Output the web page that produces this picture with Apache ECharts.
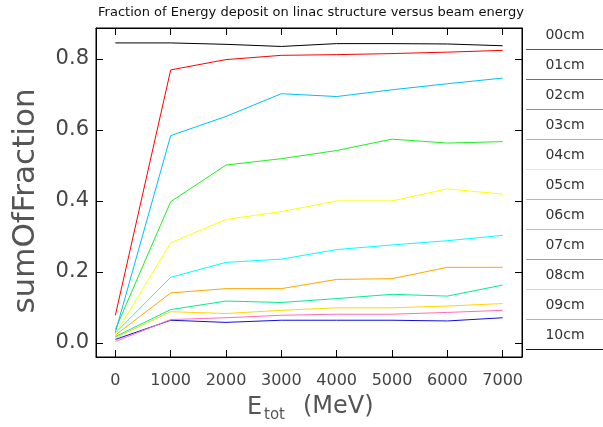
<!DOCTYPE html>
<html>
<head>
<meta charset="utf-8">
<script src="https://cdn.jsdelivr.net/npm/echarts@6/dist/echarts.min.js"></script>
<style>html,body{margin:0;padding:0;background:#fff;}#c{width:603px;height:427px;}</style>
</head>
<body>
<div id="c"></div>
<script>
const xs = [0, 1000, 2000, 3000, 4000, 5000, 6000, 7000];
const names = ['00cm','01cm','02cm','03cm','04cm','05cm','06cm','07cm','08cm','09cm','10cm'];
const s00 = [0.845, 0.845, 0.841, 0.835, 0.843, 0.843, 0.842, 0.837];
const s01 = [0.078, 0.769, 0.798, 0.810, 0.812, 0.815, 0.819, 0.824];
const s02 = [0.030, 0.584, 0.638, 0.702, 0.694, 0.713, 0.730, 0.746];
const s03 = [0.038, 0.398, 0.501, 0.519, 0.542, 0.574, 0.563, 0.567];
const s04 = [0.025, 0.282, 0.348, 0.370, 0.400, 0.400, 0.434, 0.419];
const s05 = [0.028, 0.185, 0.227, 0.236, 0.263, 0.276, 0.288, 0.303];
const s06 = [0.022, 0.141, 0.153, 0.153, 0.179, 0.181, 0.213, 0.213];
const s07 = [0.018, 0.094, 0.118, 0.114, 0.125, 0.137, 0.132, 0.163];
const s08 = [0.015, 0.088, 0.083, 0.092, 0.099, 0.099, 0.104, 0.111];
const s09 = [0.004, 0.066, 0.071, 0.078, 0.081, 0.081, 0.086, 0.092];
const s10 = [0.010, 0.064, 0.058, 0.064, 0.064, 0.064, 0.062, 0.071];
const values = [s00, s01, s02, s03, s04, s05, s06, s07, s08, s09, s10];
const colors = ['#000000','#ff0000','#00bfff','#22ee22','#ffff00','#00ffff','#ffa500','#00ee90','#ffd700','#ff6eb4','#1010e0'];
const legendColors = ['#555555','#ff3333','#11bbff','#55ee55','#ffff00','#33eeee','#ffb050','#11ee99','#ffd840','#ff88c0','#0000cc'];

const FONT = 'DejaVu Sans';
const X_MIN = -350, X_MAX = 7350, Y_MIN = -0.0395, Y_MAX = 0.887;
const chart = echarts.init(document.getElementById('c'), null, {renderer: 'canvas'});

const series = values.map((v, i) => ({
  name: names[i],
  type: 'line',
  data: xs.map((x, j) => [x, v[j]]),
  showSymbol: false,
  symbol: 'none',
  lineStyle: {color: colors[i], width: 1},
  itemStyle: {color: colors[i]},
  animation: false,
  z: 20 - i
}));

const graphics = [];
graphics.push({
  type: 'text', x: 311, y: 13,
  style: {text: 'Fraction of Energy deposit on linac structure versus beam energy', font: '13px ' + FONT, fill: '#111', textAlign: 'center', textVerticalAlign: 'middle'}
});
graphics.push({
  type: 'text', x: 26, y: 201, rotation: Math.PI / 2,
  style: {text: 'sumOfFraction', font: '31px ' + FONT, fill: '#555', textAlign: 'center', textVerticalAlign: 'middle'}
});
graphics.push({type: 'text', x: 247, y: 408, style: {text: 'E', font: '24px ' + FONT, fill: '#555', textVerticalAlign: 'middle'}});
graphics.push({type: 'text', x: 264, y: 415, style: {text: 'tot', font: '15px ' + FONT, fill: '#555', textVerticalAlign: 'middle'}});
graphics.push({type: 'text', x: 303, y: 407, style: {text: '(MeV)', font: '24px ' + FONT, fill: '#555', textVerticalAlign: 'middle'}});

names.forEach((n, i) => {
  const ly = 49.5 + i * 30;
  graphics.push({type: 'text', x: 565, y: ly - 14.5, style: {text: n, font: '14px ' + FONT, fill: '#333', textAlign: 'center', textVerticalAlign: 'middle'}});
  graphics.push({type: 'line', shape: {x1: 526, y1: ly, x2: 603, y2: ly}, style: {stroke: legendColors[i], lineWidth: 1}});
});

const tickAxis = (pos, isX) => ({
  type: 'value', min: isX ? X_MIN : Y_MIN, max: isX ? X_MAX : Y_MAX, splitNumber: isX ? 8 : 5, position: pos,
  axisLine: {show: true, onZero: false, lineStyle: {color: '#000', width: 1}},
  splitLine: {show: false},
  axisLabel: {show: false},
  axisTick: {show: true, inside: true, length: 7, lineStyle: {color: '#000', width: 1}}
});

chart.setOption({
  animation: false,
  backgroundColor: '#fff',
  grid: {left: 96, right: 81, top: 28, bottom: 70, show: true, borderColor: '#000', borderWidth: 1, containLabel: false},
  xAxis: [
    {type: 'value', min: X_MIN, max: X_MAX, splitNumber: 8, position: 'bottom',
      axisLine: {show: false, onZero: false}, splitLine: {show: false}, axisTick: {show: false},
      axisLabel: {show: true, margin: 16, fontFamily: FONT, fontSize: 16, color: '#444', showMinLabel: false, showMaxLabel: false,
        formatter: v => String(Math.round(v))}},
    tickAxis('top', true),
    tickAxis('bottom', true)
  ],
  yAxis: [
    {type: 'value', min: Y_MIN, max: Y_MAX, splitNumber: 5, position: 'left',
      axisLine: {show: false, onZero: false}, splitLine: {show: false}, axisTick: {show: false},
      axisLabel: {show: true, margin: 7, fontFamily: FONT, fontSize: 21, color: '#444', showMinLabel: false, showMaxLabel: false,
        formatter: v => v.toFixed(1)}},
    tickAxis('right', false),
    tickAxis('left', false)
  ],
  series: series,
  graphic: graphics
});
</script>
</body>
</html>
